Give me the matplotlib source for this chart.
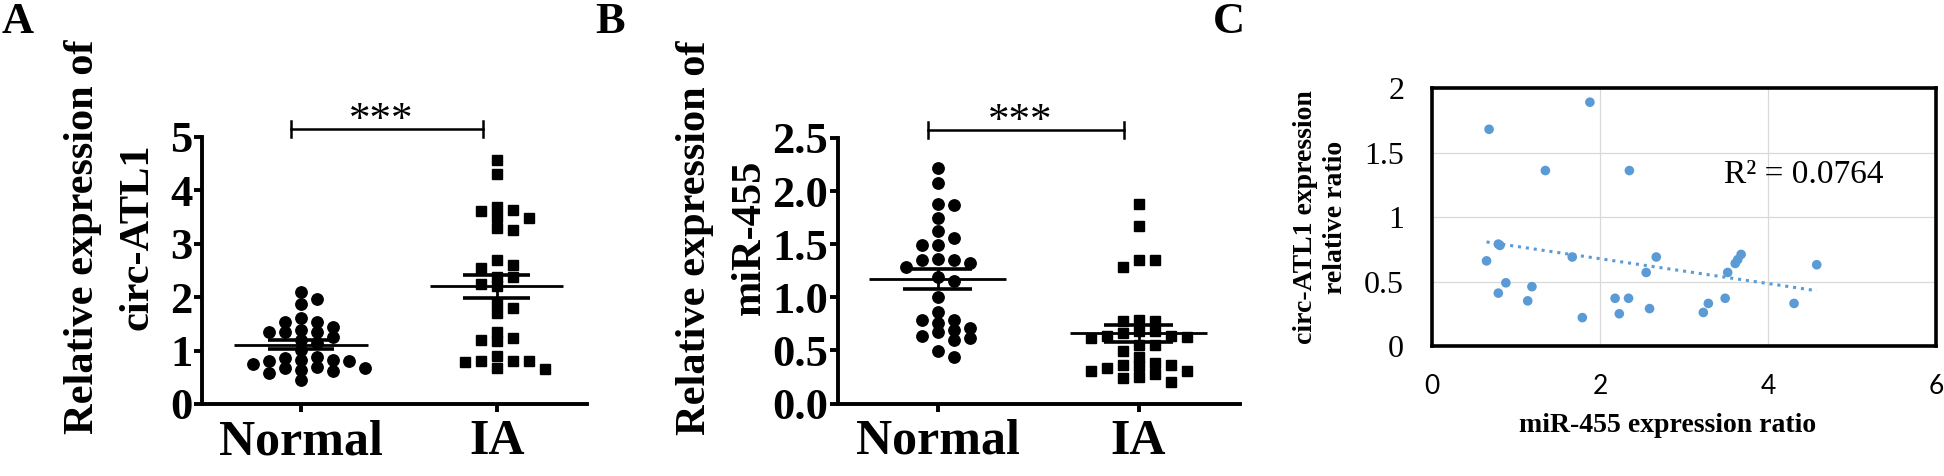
import matplotlib
matplotlib.use("Agg")
import matplotlib.pyplot as plt
import matplotlib.transforms as mtrans
import numpy as np

SERIF = "Liberation Serif"
GROUPS = ["Normal", "IA"]

# Panel A: circ-ATL1 relative expression
A_NORMAL = [2.10, 1.97, 1.87, 1.61, 1.53, 1.53, 1.45, 1.39, 1.34, 1.34, 1.34, 1.26,
            1.20, 1.14, 1.01, 0.88, 0.86, 0.83, 0.83, 0.80, 0.80, 0.75, 0.70, 0.67,
            0.67, 0.63, 0.61, 0.58, 0.45]
A_IA = [4.57, 4.30, 3.68, 3.63, 3.61, 3.51, 3.48, 3.29, 3.25, 2.70, 2.60, 2.55,
        2.37, 2.37, 2.24, 2.20, 1.89, 1.79, 1.70, 1.35, 1.23, 1.20, 1.17, 0.89,
        0.81, 0.81, 0.81, 0.79, 0.68, 0.65]
A_YTICKS = [0, 1, 2, 3, 4, 5]

# Panel B: miR-455 relative expression
B_NORMAL = [2.22, 2.08, 1.88, 1.87, 1.75, 1.62, 1.56, 1.49, 1.49, 1.36, 1.35, 1.35,
            1.32, 1.29, 1.19, 1.15, 1.00, 0.86, 0.79, 0.79, 0.76, 0.71, 0.69, 0.67,
            0.64, 0.62, 0.60, 0.49, 0.44]
B_IA = [1.88, 1.67, 1.35, 1.35, 1.29, 0.79, 0.78, 0.78, 0.68, 0.68, 0.66, 0.64,
        0.64, 0.63, 0.62, 0.55, 0.55, 0.49, 0.44, 0.38, 0.36, 0.36, 0.35, 0.33,
        0.31, 0.31, 0.28, 0.25, 0.24, 0.20]
B_YTICKS = [0.0, 0.5, 1.0, 1.5, 2.0, 2.5]

# Panel C: correlation
C_MIR = [0.68, 1.88, 1.35, 2.35, 0.79, 0.81, 0.65, 1.67, 2.67, 2.55, 3.68, 3.64,
         3.61, 3.52, 4.58, 0.88, 0.79, 1.19, 1.14, 1.79, 2.18, 2.34, 2.23, 2.59,
         3.23, 3.29, 3.49, 4.31]
C_CIRC = [1.68, 1.89, 1.36, 1.36, 0.79, 0.78, 0.66, 0.69, 0.69, 0.57, 0.71, 0.67,
          0.64, 0.57, 0.63, 0.49, 0.41, 0.46, 0.35, 0.22, 0.37, 0.37, 0.25, 0.29,
          0.26, 0.33, 0.37, 0.33]
C_R2 = "R\u00b2 = 0.0764"
C_BLUE = "#5B9BD5"


def swarm(values, ax, step_px=16.0, ythr_px=9.0):
    """GraphPad-like column scatter: offsets in category units."""
    y0, y1 = ax.get_ylim()
    x0, x1 = ax.get_xlim()
    py = ax.bbox.height / (y1 - y0)
    px = ax.bbox.width / (x1 - x0)
    vals = np.asarray(values, dtype=float)
    order = np.argsort(-vals, kind="stable")
    placed = []
    offs = np.zeros(len(vals))
    cands = [0]
    for k in range(1, 12):
        cands += [k, -k]
    for i in order:
        y = vals[i] * py
        for c in cands:
            if all(abs(c - pc) >= 1 or abs(y - py_) >= ythr_px for pc, py_ in placed):
                break
        placed.append((c, y))
        offs[i] = c
    return offs * step_px / px


def dot_panel(ax, groups, ylim, yticks, ylabel, label_x, xlim):
    ax.set_xlim(*xlim)
    ax.set_ylim(*ylim)
    markers = ["o", "s"]
    sizes = [8.2, 7.6]
    for gi, vals in enumerate(groups):
        offs = swarm(vals, ax)
        ax.plot(gi + offs, vals, linestyle="none", marker=markers[gi],
                markersize=sizes[gi], color="black", clip_on=False, zorder=2)
        m = np.mean(vals)
        se = np.std(vals, ddof=1) / np.sqrt(len(vals))
        ax.hlines(m, gi - 0.34, gi + 0.34, color="black", lw=2.0, zorder=3)
        ax.hlines([m - se, m + se], gi - 0.17, gi + 0.17, color="black", lw=2.6, zorder=3)
        ax.vlines(gi, m - se, m + se, color="black", lw=2.0, zorder=3)

    for s in ["top", "right"]:
        ax.spines[s].set_visible(False)
    for s in ["left", "bottom"]:
        ax.spines[s].set_linewidth(2.8)
    ax.set_xticks([0, 1])
    ax.set_xticklabels(GROUPS, fontfamily=SERIF, fontweight="bold", fontsize=36)
    ax.set_yticks(yticks)
    ax.set_yticklabels([f"{t:g}" if isinstance(t, int) else f"{t:.1f}" for t in yticks],
                       fontfamily=SERIF, fontweight="bold", fontsize=32)
    ax.tick_params(axis="y", length=6, width=2.8, pad=1)
    ax.tick_params(axis="x", length=6, width=2.8, pad=5)
    ax.set_ylabel(ylabel, fontfamily=SERIF, fontweight="bold", fontsize=30.5,
                  linespacing=1.6)
    ax.yaxis.set_label_coords(label_x, 0.625)

    # significance bracket
    tr = mtrans.blended_transform_factory(ax.transData, ax.transAxes)
    bx0, bx1, by = -0.05, 0.93, 1.03
    ax.plot([bx0, bx1], [by, by], color="black", lw=1.8, transform=tr, clip_on=False)
    for bx in (bx0, bx1):
        ax.plot([bx, bx], [by - 0.03, by + 0.03], color="black", lw=1.8,
                transform=tr, clip_on=False)
    ax.text(0.41, 0.99, "***", transform=tr, ha="center", va="bottom",
            fontfamily=SERIF, fontsize=31)


def main() -> None:
    fig = plt.figure(figsize=(19.44, 4.76), dpi=100)

    ax_a = fig.add_axes([0.1039, 0.1513, 0.198, 0.561])
    ax_b = fig.add_axes([0.4311, 0.1523, 0.2068, 0.5578])
    ax_c = fig.add_axes([0.7366, 0.2731, 0.2593, 0.542])

    dot_panel(ax_a, [A_NORMAL, A_IA], (0, 5), A_YTICKS,
              "Relative expression of\ncirc-ATL1", -0.117, (-0.505, 1.46))
    dot_panel(ax_b, [B_NORMAL, B_IA], (0, 2.5), B_YTICKS,
              "Relative expression of\nmiR-455", -0.172, (-0.495, 1.505))

    # Panel C: scatter with linear trend line
    ax_c.set_xlim(0, 6)
    ax_c.set_ylim(0, 2)
    ax_c.grid(True, color="#D9D9D9", lw=0.9)
    ax_c.set_axisbelow(True)
    ax_c.scatter(C_MIR, C_CIRC, s=48, color=C_BLUE, edgecolors="none", zorder=3)
    slope, icpt = np.polyfit(C_MIR, C_CIRC, 1)
    xs = np.array([min(C_MIR), max(C_MIR)])
    ax_c.plot(xs, slope * xs + icpt, linestyle=(0, (1, 1.6)), color=C_BLUE, lw=2.2,
              zorder=2)
    ax_c.text(3.48, 1.33, C_R2, fontfamily=SERIF, fontsize=24, va="center", ha="left")
    for s in ax_c.spines.values():
        s.set_linewidth(2.6)
    ax_c.set_xticks([0, 2, 4, 6])
    ax_c.set_xticklabels(["0", "2", "4", "6"], fontfamily="Lato", fontsize=19)
    ax_c.set_yticks([0, 0.5, 1, 1.5, 2])
    ax_c.set_yticklabels(["0", "0.5", "1", "1.5", "2"], fontfamily=SERIF, fontsize=23)
    ax_c.tick_params(length=0, pad=20)
    ax_c.set_xlabel("miR-455 expression ratio", fontfamily=SERIF, fontweight="bold",
                    fontsize=20)
    ax_c.xaxis.set_label_coords(0.468, -0.26)
    ax_c.set_ylabel("circ-ATL1 expression\nrelative ratio", fontfamily=SERIF,
                    fontweight="bold", fontsize=20, linespacing=1.25)
    ax_c.yaxis.set_label_coords(-0.167, 0.5)

    for x, lab in [(0.001, "A"), (0.306, "B"), (0.624, "C")]:
        fig.text(x, 0.995, lab, fontfamily=SERIF, fontweight="bold", fontsize=32,
                 ha="left", va="top")

    fig.savefig("out.png", dpi=100)
    plt.close(fig)


if __name__ == "__main__":
    main()
